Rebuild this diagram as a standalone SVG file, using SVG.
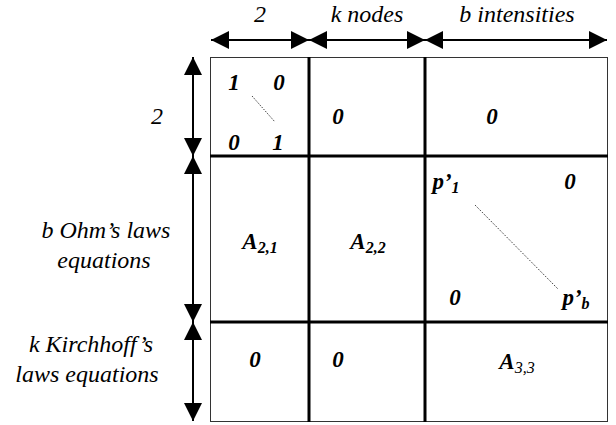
<svg xmlns="http://www.w3.org/2000/svg" width="616" height="425" viewBox="0 0 616 425">
<style>
svg g text, svg g tspan, svg text{font-family:'Liberation Serif', serif !important}
.lbl{font-style:italic;font-size:24px;fill:#000;text-anchor:middle}
.cell{font-style:italic;font-weight:bold;font-size:23px;fill:#000;text-anchor:middle}
.sub{font-size:16px}
.thin{stroke:#333;stroke-width:1;fill:none}
.thick{stroke:#000;stroke-width:3;fill:none}
.dim{stroke:#000;stroke-width:2;fill:none}
.dot{stroke:#000;stroke-width:1;stroke-dasharray:1 1.5;fill:none}
</style>
<defs>
<marker id="ah" viewBox="0 0 18 18" refX="18" refY="9" markerWidth="18" markerHeight="18" markerUnits="userSpaceOnUse" orient="auto-start-reverse">
<path d="M0,0 L18,9 L0,18 Z" fill="#000"/>
</marker>
</defs>
<rect width="616" height="425" fill="#fff"/>
<g id="grid">
<rect class="thin" x="210.5" y="57.5" width="397" height="364"/>
<line class="thick" x1="309" y1="57" x2="309" y2="422"/>
<line class="thick" x1="425" y1="57" x2="425" y2="422"/>
<line class="thick" x1="210" y1="156" x2="608" y2="156"/>
<line class="thick" x1="210" y1="322" x2="608" y2="322"/>
</g>
<g id="connectors">
<line class="dim" x1="211" y1="40" x2="309" y2="40" marker-start="url(#ah)" marker-end="url(#ah)"/>
<line class="dim" x1="309" y1="40" x2="425" y2="40" marker-start="url(#ah)" marker-end="url(#ah)"/>
<line class="dim" x1="425" y1="40" x2="607" y2="40" marker-start="url(#ah)" marker-end="url(#ah)"/>
<line class="dim" x1="193" y1="57" x2="193" y2="156" marker-start="url(#ah)" marker-end="url(#ah)"/>
<line class="dim" x1="193" y1="156" x2="193" y2="322" marker-start="url(#ah)" marker-end="url(#ah)"/>
<line class="dim" x1="193" y1="322" x2="193" y2="421" marker-start="url(#ah)" marker-end="url(#ah)"/>
</g>
<g id="labels">
<text class="lbl" x="260" y="22" font-family="'Liberation Serif', serif" style="font-family:'Liberation Serif', serif !important">2</text>
<text class="lbl" x="367" y="22" font-family="'Liberation Serif', serif" style="font-family:'Liberation Serif', serif !important">k nodes</text>
<text class="lbl" x="517" y="22" font-family="'Liberation Serif', serif" style="font-family:'Liberation Serif', serif !important">b intensities</text>
<text class="lbl" x="157" y="124" font-family="'Liberation Serif', serif" style="font-family:'Liberation Serif', serif !important">2</text>
<text class="lbl" x="106" y="238" font-family="'Liberation Serif', serif" style="font-family:'Liberation Serif', serif !important">b Ohm’s laws</text>
<text class="lbl" x="104" y="268" font-family="'Liberation Serif', serif" style="font-family:'Liberation Serif', serif !important">equations</text>
<text class="lbl" x="91" y="352" font-family="'Liberation Serif', serif" style="font-family:'Liberation Serif', serif !important">k Kirchhoff’s</text>
<text class="lbl" x="87" y="382" font-family="'Liberation Serif', serif" style="font-family:'Liberation Serif', serif !important">laws equations</text>
</g>
<g id="cell11">
<text class="cell" x="234" y="90" font-family="'Liberation Serif', serif" style="font-family:'Liberation Serif', serif !important">1</text>
<text class="cell" x="279" y="90" font-family="'Liberation Serif', serif" style="font-family:'Liberation Serif', serif !important">0</text>
<text class="cell" x="234" y="150" font-family="'Liberation Serif', serif" style="font-family:'Liberation Serif', serif !important">0</text>
<text class="cell" x="278" y="150" font-family="'Liberation Serif', serif" style="font-family:'Liberation Serif', serif !important">1</text>
<line class="dot" x1="252" y1="96" x2="275" y2="122"/>
</g>
<g id="cell12"><text class="cell" x="338" y="124" font-family="'Liberation Serif', serif" style="font-family:'Liberation Serif', serif !important">0</text></g>
<g id="cell13"><text class="cell" x="492" y="124" font-family="'Liberation Serif', serif" style="font-family:'Liberation Serif', serif !important">0</text></g>
<g id="cell21"><text class="cell" x="260" y="249" font-family="'Liberation Serif', serif" style="font-family:'Liberation Serif', serif !important">A<tspan class="sub" dy="4">2,1</tspan></text></g>
<g id="cell22"><text class="cell" x="368" y="249" font-family="'Liberation Serif', serif" style="font-family:'Liberation Serif', serif !important">A<tspan class="sub" dy="4">2,2</tspan></text></g>
<g id="cell23">
<text class="cell" x="446" y="189" font-family="'Liberation Serif', serif" style="font-family:'Liberation Serif', serif !important">p’<tspan class="sub" dy="4">1</tspan></text>
<text class="cell" x="570" y="189" font-family="'Liberation Serif', serif" style="font-family:'Liberation Serif', serif !important">0</text>
<text class="cell" x="455" y="305" font-family="'Liberation Serif', serif" style="font-family:'Liberation Serif', serif !important">0</text>
<text class="cell" x="576" y="305" font-family="'Liberation Serif', serif" style="font-family:'Liberation Serif', serif !important">p’<tspan class="sub" dy="4">b</tspan></text>
<line class="dot" x1="475" y1="205" x2="558" y2="289"/>
</g>
<g id="cell31"><text class="cell" x="255" y="367" font-family="'Liberation Serif', serif" style="font-family:'Liberation Serif', serif !important">0</text></g>
<g id="cell32"><text class="cell" x="338" y="367" font-family="'Liberation Serif', serif" style="font-family:'Liberation Serif', serif !important">0</text></g>
<g id="cell33"><text class="cell" x="517" y="369" font-family="'Liberation Serif', serif" style="font-family:'Liberation Serif', serif !important">A<tspan class="sub" dy="4" font-weight="normal">3,3</tspan></text></g>
</svg>
